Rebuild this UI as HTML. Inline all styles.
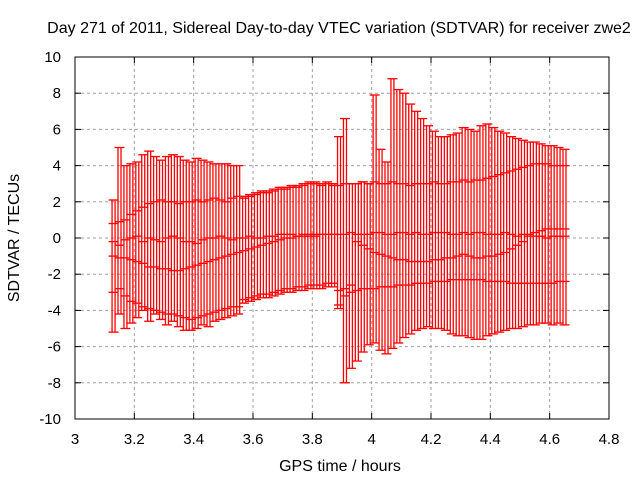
<!DOCTYPE html>
<html><head><meta charset="utf-8"><style>
body{margin:0;background:#fff;}
svg{display:block;font-family:"Liberation Sans",sans-serif;}
</style></head><body>
<svg id="chart" width="640" height="480">
<text x="339" y="33" font-size="16" text-anchor="middle">Day 271 of 2011, Sidereal Day-to-day VTEC variation (SDTVAR) for receiver zwe2</text>
<text x="340" y="471" font-size="16" text-anchor="middle">GPS time / hours</text>
<text transform="translate(19,238) rotate(-90)" font-size="16" text-anchor="middle">SDTVAR / TECUs</text>
<g id="grid"></g><g id="marks"></g><g id="axes"></g>
</svg>
<script>
const xTicks=[3,3.2,3.4,3.6,3.8,4,4.2,4.4,4.6,4.8];
const yTicks=[-10,-8,-6,-4,-2,0,2,4,6,8,10];
const tStart=3.13, tStep=0.02;
const hi=[2.1,5.0,4.0,4.1,4.2,4.6,4.8,4.5,4.3,4.5,4.6,4.5,4.3,4.2,4.4,4.3,4.2,4.1,4.1,4.1,4.0,4.0,2.3,2.4,2.5,2.6,2.6,2.7,2.8,2.8,2.9,2.9,3.0,3.1,3.1,3.0,3.1,3.0,5.6,6.6,3.0,3.0,3.1,3.0,7.9,4.9,4.2,8.8,8.2,8.0,7.4,7.0,6.6,6.2,5.9,5.6,5.6,5.7,5.8,6.1,6.0,5.9,6.2,6.3,6.1,5.9,5.8,5.6,5.5,5.4,5.3,5.3,5.2,5.1,5.1,5.0,4.9];
const lo=[-5.2,-4.2,-5.0,-4.7,-4.4,-4.0,-4.6,-4.2,-4.5,-4.8,-4.6,-4.9,-5.1,-5.1,-5.0,-4.8,-4.9,-4.6,-4.5,-4.4,-4.3,-4.2,-3.6,-3.5,-3.4,-3.3,-3.3,-3.2,-3.1,-3.0,-3.0,-2.9,-2.9,-2.8,-2.8,-2.8,-2.7,-2.7,-3.9,-8.0,-7.2,-6.8,-6.3,-5.9,-5.8,-6.2,-6.4,-6.1,-5.8,-5.5,-5.3,-5.1,-5.0,-4.9,-5.0,-5.0,-5.1,-5.3,-5.4,-5.4,-5.5,-5.6,-5.6,-5.4,-5.3,-5.2,-5.1,-5.0,-5.0,-4.9,-4.8,-4.8,-4.7,-4.7,-4.8,-4.7,-4.8];
const serA=[0.8,0.9,1.0,1.3,1.5,1.7,1.9,2.0,2.1,2.0,2.0,1.9,2.0,2.0,2.1,2.0,2.1,2.2,2.1,2.0,2.2,2.3,2.2,2.3,2.4,2.5,2.5,2.6,2.7,2.7,2.8,2.8,2.9,3.0,3.0,2.9,3.0,2.9,2.9,3.0,3.0,3.0,3.1,3.0,3.1,3.0,3.0,3.1,3.0,3.0,2.9,3.0,3.0,3.0,3.1,3.0,3.0,3.1,3.1,3.2,3.1,3.2,3.2,3.3,3.4,3.5,3.6,3.7,3.8,3.9,4.0,4.1,4.1,4.1,4.0,4.0,4.0];
const serB=[-0.2,-0.4,-0.1,0.0,0.1,-0.2,0.0,-0.1,-0.2,0.0,0.1,0.0,-0.2,-0.2,-0.3,-0.1,0.0,0.0,0.1,0.0,-0.1,0.0,0.0,0.1,0.0,0.0,0.1,0.1,0.2,0.2,0.2,0.1,0.2,0.2,0.1,0.2,0.2,0.2,0.2,0.2,0.3,0.2,0.2,0.2,0.3,0.3,0.2,0.2,0.3,0.3,0.2,0.3,0.2,0.2,0.3,0.3,0.3,0.2,0.2,0.3,0.2,0.3,0.3,0.2,0.2,0.2,0.3,0.2,0.1,0.2,0.2,0.1,0.1,0.0,0.1,0.1,0.1];
const serC=[-1.0,-1.1,-1.1,-1.2,-1.3,-1.4,-1.6,-1.6,-1.7,-1.7,-1.8,-1.8,-1.7,-1.6,-1.5,-1.4,-1.3,-1.2,-1.1,-1.0,-0.9,-0.8,-0.7,-0.6,-0.5,-0.4,-0.3,-0.2,-0.1,0.0,0.0,0.1,0.1,0.1,0.2,0.2,0.2,0.2,-2.9,-2.8,-2.6,-0.2,-0.4,-0.6,-0.8,-0.9,-1.0,-1.1,-1.2,-1.2,-1.3,-1.3,-1.3,-1.3,-1.2,-1.2,-1.1,-1.1,-1.0,-0.9,-1.0,-1.1,-1.1,-1.0,-1.0,-0.9,-0.8,-0.6,-0.4,-0.2,0.1,0.3,0.4,0.5,0.5,0.5,0.5];
const serD=[-3.0,-2.8,-3.2,-3.5,-3.6,-3.8,-3.9,-4.0,-4.1,-4.2,-4.2,-4.3,-4.4,-4.5,-4.4,-4.3,-4.2,-4.1,-4.0,-3.9,-3.8,-3.8,-3.4,-3.3,-3.2,-3.1,-3.1,-3.0,-2.9,-2.8,-2.8,-2.7,-2.7,-2.6,-2.6,-2.6,-2.5,-2.5,-3.7,-3.2,-3.0,-2.9,-2.8,-2.8,-2.8,-2.7,-2.7,-2.7,-2.6,-2.6,-2.6,-2.5,-2.5,-2.5,-2.4,-2.4,-2.4,-2.3,-2.3,-2.3,-2.3,-2.3,-2.3,-2.4,-2.4,-2.4,-2.4,-2.5,-2.5,-2.5,-2.5,-2.5,-2.5,-2.5,-2.5,-2.4,-2.4];
const X0=75,X1=609,Y0=419,Y1=57;
function xs(t){return X0+(t-3)/1.8*(X1-X0);}
function ys(v){return Y0-(v+10)/20*(Y0-Y1);}
const NS='http://www.w3.org/2000/svg';
function mk(tag,attrs,parent){const e=document.createElementNS(NS,tag);for(const k in attrs)e.setAttribute(k,attrs[k]);parent.appendChild(e);return e;}
const grid=document.getElementById('grid'),marks=document.getElementById('marks'),axes=document.getElementById('axes');
xTicks.forEach(t=>{
  const x=xs(t);
  if(t>3&&t<4.8){const g=mk('line',{x1:x,x2:x,y1:Y1,y2:Y0,stroke:'#a0a0a0','stroke-dasharray':'3,3'},grid);
  
  }
  const l=mk('text',{x:x,y:444,'font-size':15,'text-anchor':'middle'},axes);l.textContent=t;
  
  
  mk('line',{x1:x,x2:x,y1:Y0,y2:Y0-6,stroke:'#000'},axes);
  mk('line',{x1:x,x2:x,y1:Y1,y2:Y1+6,stroke:'#000'},axes);
});
yTicks.forEach(v=>{
  const y=ys(v);
  if(v>-10&&v<10){const g=mk('line',{x1:X0,x2:X1,y1:y,y2:y,stroke:'#a0a0a0','stroke-dasharray':'3,3'},grid);
  
  }
  const l=mk('text',{x:61,y:y+5,'font-size':15,'text-anchor':'end'},axes);l.textContent=v;
  
  
  mk('line',{x1:X0,x2:X0+6,y1:y,y2:y,stroke:'#000'},axes);
  mk('line',{x1:X1,x2:X1-6,y1:y,y2:y,stroke:'#000'},axes);
});
const box=mk('rect',{x:X0,y:Y1,width:X1-X0,height:Y0-Y1,fill:'none',stroke:'#000'},axes);


for(let i=0;i<hi.length;i++){
  const t=tStart+i*tStep,x=xs(t);
  [x-1.5,x+1.5].forEach(xx=>{
    const b=mk('line',{x1:xx,x2:xx,y1:ys(hi[i]),y2:ys(lo[i]),stroke:'#f00','stroke-width':1.3},marks);
    
    
  });
  [hi[i],lo[i],serA[i],serB[i],serC[i],serD[i]].forEach(v=>{
    const c=mk('line',{x1:x-5,x2:x+5,y1:ys(v),y2:ys(v),stroke:'#f00','stroke-width':1.3},marks);
    
    
  });
}
</script>
</body></html>
